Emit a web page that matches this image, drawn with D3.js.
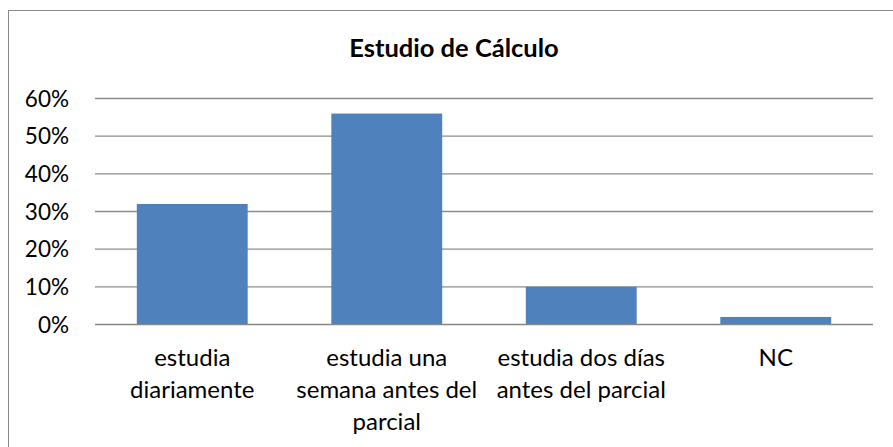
<!DOCTYPE html>
<html>
<head>
<meta charset="utf-8">
<script src="https://cdn.jsdelivr.net/npm/d3@7"></script>
<style>
  body { margin: 0; background: #fff; }
  svg { display: block; font-family: Lato, "Open Sans", sans-serif; }
</style>
</head>
<body>
<div id="chart"></div>
<script>
const categories = [
  ["estudia", "diariamente"],
  ["estudia una", "semana antes del", "parcial"],
  ["estudia dos días", "antes del parcial"],
  ["NC"],
];
const values = [0.32, 0.56, 0.10, 0.02];
const yTicks = [0, 0.1, 0.2, 0.3, 0.4, 0.5, 0.6];
const title = "Estudio de Cálculo";

const width = 893, height = 447;
const margin = { top: 98.5, right: 20, bottom: 122.5, left: 95 };
const innerW = width - margin.left - margin.right;
const innerH = height - margin.top - margin.bottom;

const svg = d3.select("#chart")
  .append("svg")
  .attr("width", width)
  .attr("height", height);

// chart frame
svg.append("rect")
  .attr("x", 8.5)
  .attr("y", 10.5)
  .attr("width", 900)
  .attr("height", 450)
  .attr("fill", "none")
  .attr("stroke", "#8a8a8a")
  .attr("stroke-width", 1);

svg.append("text")
  .attr("x", 454)
  .attr("y", 57)
  .attr("text-anchor", "middle")
  .style("font-size", "25.5px")
  .style("font-weight", "bold")
  .attr("fill", "#000")
  .text(title);

const g = svg.append("g")
  .attr("transform", `translate(${margin.left},${margin.top})`);

const x = d3.scaleBand()
  .domain(d3.range(categories.length))
  .range([0, innerW])
  .paddingInner(0.43)
  .paddingOuter(0.215);

const y = d3.scaleLinear()
  .domain([0, 0.6])
  .range([innerH, 0]);

// gridlines
g.append("g")
  .selectAll("line")
  .data(yTicks.slice(1))
  .join("line")
  .attr("x1", 0)
  .attr("x2", innerW)
  .attr("y1", (d) => y(d))
  .attr("y2", (d) => y(d))
  .attr("stroke", "#8c8c8c")
  .attr("stroke-width", 1.3);

// y labels
g.append("g")
  .selectAll("text")
  .data(yTicks)
  .join("text")
  .attr("x", -26)
  .attr("y", (d) => y(d))
  .attr("dy", "0.36em")
  .attr("text-anchor", "end")
  .style("font-size", "22.5px")
  .attr("fill", "#000")
  .text(d3.format(".0%"));

// bars
g.append("g")
  .selectAll("rect")
  .data(values)
  .join("rect")
  .attr("x", (d, i) => x(i))
  .attr("y", (d) => y(d))
  .attr("width", x.bandwidth())
  .attr("height", (d) => innerH - y(d))
  .attr("fill", "#4f81bd");

// baseline axis
g.append("line")
  .attr("x1", 0)
  .attr("x2", innerW)
  .attr("y1", innerH)
  .attr("y2", innerH)
  .attr("stroke", "#868686")
  .attr("stroke-width", 1.5);

// category labels
const labels = g.append("g")
  .selectAll("text")
  .data(categories)
  .join("text")
  .attr("text-anchor", "middle")
  .attr("transform", (d, i) => `translate(${x(i) + x.bandwidth() / 2},${innerH + 41})`)
  .style("font-size", "24px")
  .attr("fill", "#000");

labels.selectAll("tspan")
  .data((d) => d)
  .join("tspan")
  .attr("x", 0)
  .attr("y", (d, i) => i * 32)
  .text((d) => d);
</script>
</body>
</html>
